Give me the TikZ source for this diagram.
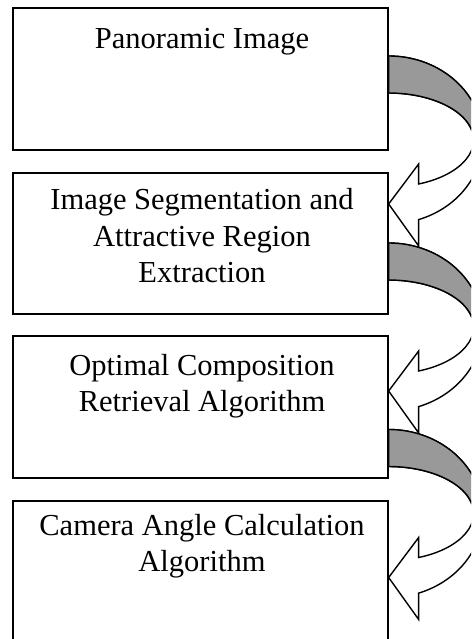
\documentclass[tikz,border=0pt]{standalone}
\usepackage{fontspec}
\setmainfont{Liberation Serif}
\begin{document}
\begin{tikzpicture}[x=1pt,y=1pt,
  box/.style={draw, line width=1.3pt, fill=white, minimum width=375pt, inner sep=0pt},
  label/.style={anchor=north, align=center, inner sep=0pt, font=\fontsize{30.5pt}{36.5pt}\selectfont},
  arrowline/.style={line width=1.4pt, line join=miter},
  curvarrow/.pic={
    \filldraw[arrowline, fill=white] (0,0) arc[start angle=90,end angle=-71.4,x radius=94pt,y radius=84pt]
      -- (30,-190) -- (0,-148) -- (30,-108) -- (30,-128)
      arc[start angle=-69.3,end angle=90,x radius=85pt,y radius=47pt] -- cycle;
    \filldraw[arrowline, fill=black!40] (0,0) arc[start angle=90,end angle=0,x radius=94pt,y radius=84pt]
      -- (85,-84) arc[start angle=0,end angle=90,x radius=85pt,y radius=47pt] -- cycle;
  }]
\useasboundingbox (0,0) rectangle (471,639);
\clip (0,0) rectangle (471,639);
\fill[white] (0,0) rectangle (471,639);
% boxes
\node[box, minimum height=142pt] (b1) at (200.5,560) {};
\node[box, minimum height=141pt] (b2) at (200.5,395.5) {};
\node[box, minimum height=142pt] (b3) at (200.5,232) {};
\node[box, minimum height=148pt] (b4) at (200.5,64) {};
% texts
\node[label] (t1) at (202,611) {Panoramic Image};
\node[label] (t2) at (202,450.7) {Image Segmentation and\\Attractive Region\\Extraction};
\node[label] (t3) at (202,285) {Optimal Composition\\Retrieval Algorithm};
\node[label] (t4) at (202,125) {Camera Angle Calculation\\Algorithm};
% curved arrows
\pic at (b1.east |- 0,583) {curvarrow};
\pic at (b2.east |- 0,396) {curvarrow};
\pic at (b3.east |- 0,209.5) {curvarrow};
\end{tikzpicture}
\end{document}
